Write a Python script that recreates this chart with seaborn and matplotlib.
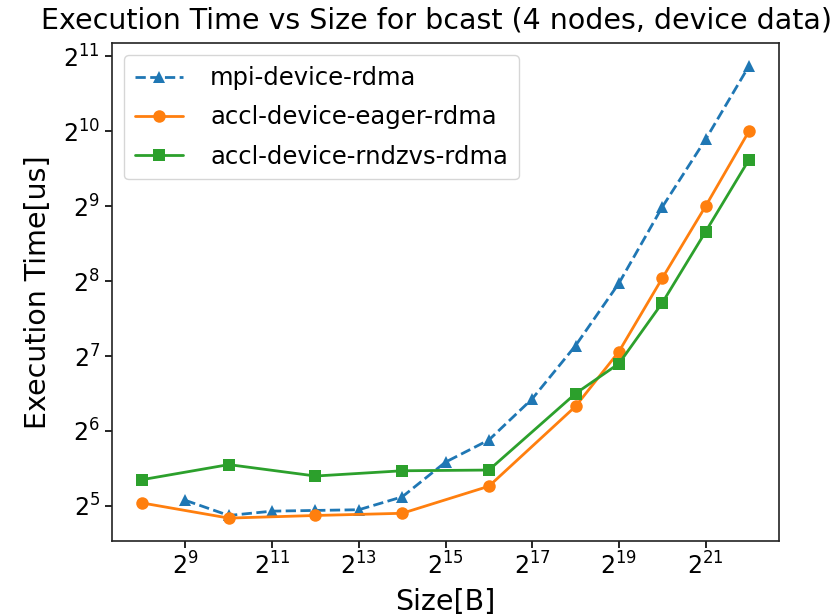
import numpy as np
import pandas as pd
import seaborn as sns
import matplotlib
matplotlib.use("Agg")
import matplotlib.pyplot as plt
from matplotlib.ticker import LogFormatterMathtext, FixedLocator, NullLocator

# Data (sizes in bytes, times in microseconds)
mpi_sizes = [2**e for e in range(9, 23)]
mpi_times = [33.7, 29.3, 30.5, 30.7, 30.9, 34.8, 48.0, 58.9, 86.2, 141, 251, 508, 949, 1872]

accl_sizes = [2**e for e in [8, 10, 12, 14, 16, 18, 19, 20, 21, 22]]
eager_times = [32.9, 28.6, 29.3, 29.9, 38.4, 80.4, 133.4, 263, 512, 1024]
rndzvs_times = [40.8, 46.9, 42.2, 44.3, 44.6, 90.5, 119.4, 209.4, 404.5, 786.8]

labels = ["mpi-device-rdma", "accl-device-eager-rdma", "accl-device-rndzvs-rdma"]
colors = ["#1f77b4", "#ff7f0e", "#2ca02c"]
x_tick_exps = [9, 11, 13, 15, 17, 19, 21]
y_tick_exps = [5, 6, 7, 8, 9, 10, 11]

sns.set_theme(style="ticks")
plt.rcParams.update({
    "font.family": ["DejaVu Sans"],
    "text.color": "black",
    "axes.labelcolor": "black",
    "xtick.color": "black",
    "ytick.color": "black",
    "axes.edgecolor": "#222222",
    "axes.linewidth": 1.2,
})

fig = plt.figure(figsize=(8.4, 6.15), dpi=100)
ax = fig.add_axes([0.133, 0.1208, 0.7948, 0.8088])

df_mpi = pd.DataFrame({"size": mpi_sizes, "time": mpi_times})
df_eager = pd.DataFrame({"size": accl_sizes, "time": eager_times})
df_rndzvs = pd.DataFrame({"size": accl_sizes, "time": rndzvs_times})

sns.lineplot(data=df_mpi, x="size", y="time", ax=ax, color=colors[0], marker="^",
             linestyle="--", linewidth=2.0, markersize=9, markeredgewidth=0, label=labels[0])
sns.lineplot(data=df_eager, x="size", y="time", ax=ax, color=colors[1], marker="o",
             linewidth=2.0, markersize=9, markeredgewidth=0, label=labels[1])
sns.lineplot(data=df_rndzvs, x="size", y="time", ax=ax, color=colors[2], marker="s",
             linewidth=2.0, markersize=9, markeredgewidth=0, label=labels[2])

ax.set_xscale("log", base=2)
ax.set_yscale("log", base=2)
ax.xaxis.set_major_locator(FixedLocator([2**e for e in x_tick_exps]))
ax.yaxis.set_major_locator(FixedLocator([2**e for e in y_tick_exps]))
ax.xaxis.set_minor_locator(NullLocator())
ax.yaxis.set_minor_locator(NullLocator())
ax.xaxis.set_major_formatter(LogFormatterMathtext(base=2))
ax.yaxis.set_major_formatter(LogFormatterMathtext(base=2))
ax.tick_params(axis="both", labelsize=17, length=5, width=1.2)

ax.set_xlabel("Size[B]", fontsize=20.5, labelpad=6)
ax.set_ylabel("Execution Time[us]", fontsize=20.5, labelpad=8)
fig.text(436 / 840, 1 - 21 / 615, "Execution Time vs Size for bcast (4 nodes, device data)",
         ha="center", va="center", fontsize=20.5)

leg = ax.legend(loc="upper left", fontsize=17.5, frameon=True,
                labelspacing=0.62, borderpad=0.45, handletextpad=1.1)

fig.savefig("out.png", dpi=100)
